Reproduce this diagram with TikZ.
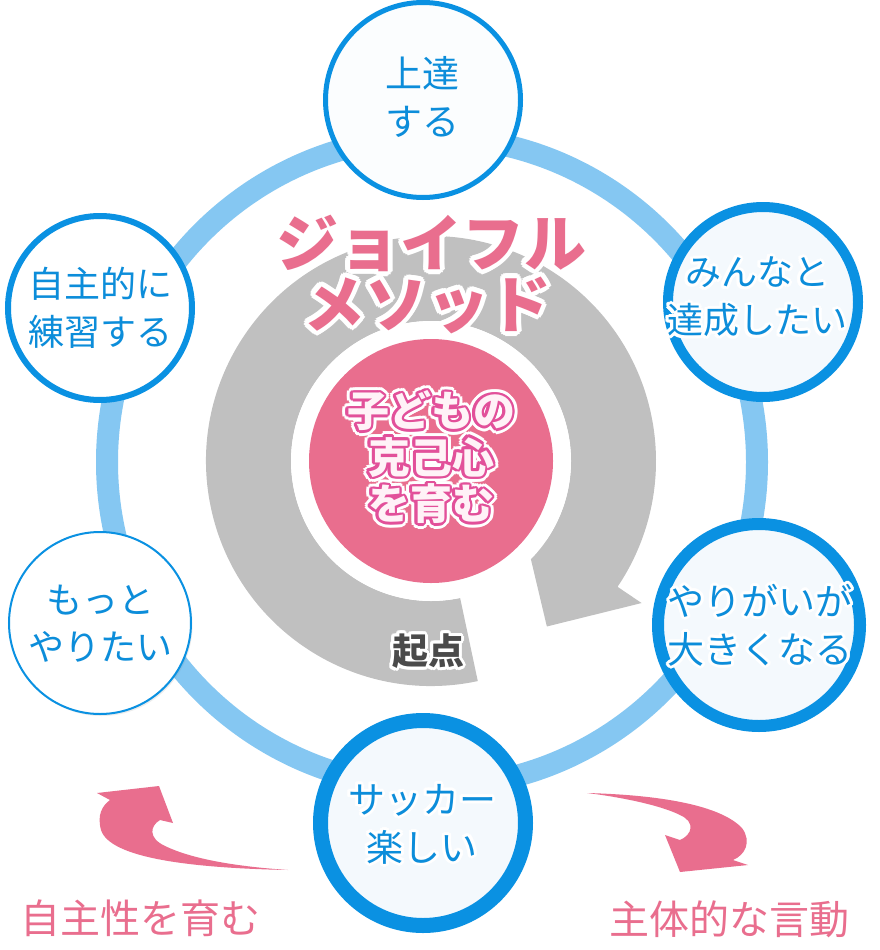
\documentclass[tikz,border=0pt]{standalone}
\usepackage{fontspec}
\newfontfamily\jp{Noto Sans CJK JP}
\usetikzlibrary{calc,shadows}
\definecolor{ringblue}{HTML}{85C7F2}
\definecolor{bordblue}{HTML}{0A91E2}
\definecolor{txtblue}{HTML}{0C8DDA}
\definecolor{cfill}{HTML}{F4F9FD}
\definecolor{pinkc}{HTML}{E96E8E}
\definecolor{grayc}{HTML}{C0C0C0}
\definecolor{magc}{HTML}{E2509A}
\definecolor{lightp}{HTML}{FFF2F7}
\definecolor{darkg}{HTML}{4A4A4A}
\newcommand\halotext[6]{%
  \foreach \hang in {0,22.5,...,337.5}{\node[#4,text=#2] at ($#1+(\hang:#3)$) {#5};}%
  \node[#4] (#6) at #1 {#5};}
\tikzset{
  bubble/.style={circle, draw=bordblue, fill=cfill, inner sep=0,
    drop shadow={shadow xshift=1.5pt, shadow yshift=-2pt, opacity=0.15}},
  btext/.style={inner sep=0, align=center, text=txtblue, font=\jp\fontsize{37}{48}\selectfont},
  titletext/.style={inner sep=0, align=center, text=pinkc, font=\jp\bfseries\fontsize{62}{62}\selectfont},
  ctext/.style={inner sep=0, align=center, text=lightp, font=\jp\bfseries\fontsize{42}{46.5}\selectfont},
  ltext/.style={inner sep=0, text=pinkc, font=\jp\fontsize{40}{40}\selectfont},
  ktext/.style={inner sep=0, text=darkg, font=\jp\bfseries\fontsize{36}{36}\selectfont}
}
\begin{document}
\begin{tikzpicture}[x=1pt,y=-1pt]
\useasboundingbox (0,0) rectangle (880,950);
\fill[white] (0,0) rectangle (880,950);
\coordinate (C) at (431,461);
% ring
\draw[ringblue, line width=22] (432,462) circle[radius=325];
% gray circular arrow
\fill[grayc] ($(C)+(78:225)$) arc[start angle=78,end angle=394,radius=225]
  -- ($(C)+(34:254)$) -- ($(C)+(55:202)$) -- ($(C)+(34:110)$) -- ($(C)+(34:140)$)
  arc[start angle=394,end angle=78,radius=140] -- cycle;
\fill[white] (C) circle[radius=140];
\node[circle, fill=pinkc, minimum size=244, inner sep=0] (core) at (C) {};
% title
\halotext{(431,243)}{white}{5}{titletext}{ジョイフル}{title1}
\halotext{(427,305)}{white}{5}{titletext}{メソッド}{title2}
% center text
\foreach \hang in {0,22.5,...,337.5}{\node[ctext,text=white] at ($(431,457)+(\hang:5.5)$) {子どもの\\克己心\\を育む};}
\foreach \hang in {0,30,...,330}{\node[ctext,text=magc] at ($(431,457)+(\hang:2.5)$) {子どもの\\克己心\\を育む};}
\node[ctext] (center) at (431,457) {子どもの\\克己心\\を育む};
% start label
\halotext{(428,651)}{white}{3}{ktext}{起点}{kiten}
% bubbles
\node[bubble, fill=white!60!cfill, line width=5, minimum size=195] (c1) at (423,100) {};
\node[bubble, fill=white, line width=6, minimum size=184] (c2) at (100,308) {};
\node[bubble, line width=10, minimum size=190] (c3) at (763,302) {};
\node[bubble, fill=white, line width=2, minimum size=182] (c4) at (100,623) {};
\node[bubble, line width=12, minimum size=202] (c5) at (759,625) {};
\node[bubble, line width=15, minimum size=205] (c6) at (423,823) {};
\node[btext] (t1) at (422,97) {上達\\する};
\node[btext, font=\jp\fontsize{36}{48}\selectfont] (t2) at (100,308) {自主的に\\練習する};
\halotext{(757,297)}{white}{3}{btext, font=\jp\fontsize{36}{48}\selectfont}{みんなと\\達成したい}{t3}
\node[btext, font=\jp\fontsize{36}{47}\selectfont] (t4) at (100,624) {もっと\\やりたい};
\halotext{(760,625)}{white}{3}{btext}{やりがいが\\大きくなる}{t5}
\halotext{(422,824)}{white}{3}{btext}{サッカー\\楽しい}{t6}
% pink curved arrows
\fill[pinkc] (288,870) .. controls (190,868) and (110,858) .. (101,830)
  .. controls (97,815) and (102,806) .. (110,800) -- (97,793) -- (159,786) -- (173,823) -- (160,820)
  .. controls (150,826) and (148,838) .. (165,846) .. controls (190,858) and (230,866) .. cycle;
\fill[pinkc] (587,793) .. controls (660,795) and (720,805) .. (742,828)
  .. controls (752,842) and (745,855) .. (733,860) -- (748,865) -- (680,872) -- (665,835) -- (680,840)
  .. controls (692,835) and (696,822) .. (680,815) .. controls (660,805) and (620,797) .. cycle;
% labels
\node[ltext] (l1) at (140,918) {自主性を育む};
\node[ltext] (l2) at (729,919) {主体的な言動};
\end{tikzpicture}
\end{document}
